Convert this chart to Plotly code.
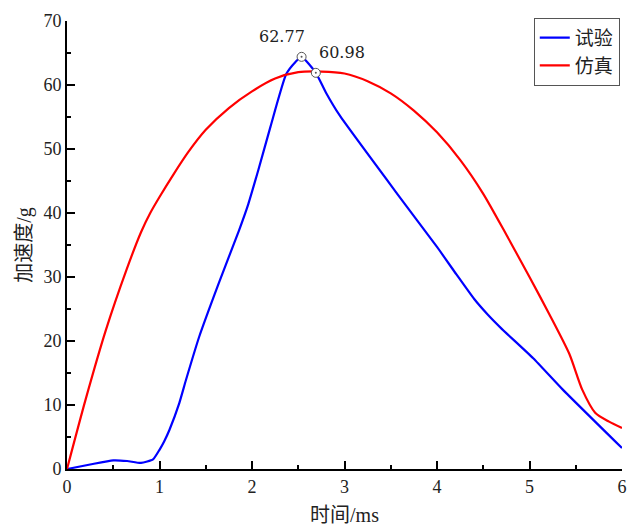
import plotly.graph_objects as go

# 试验 (test) data
test_t = [0.0, 0.25, 0.5, 0.65, 0.8, 0.93, 1.0, 1.05, 1.107, 1.214, 1.286, 1.43, 1.64, 1.86, 1.96, 2.07, 2.2, 2.37, 2.47, 2.536, 2.69, 2.8, 2.95, 3.57, 4.0, 4.21, 4.4, 4.55, 4.7, 5.04, 5.36, 6.0]
test_a = [0.0, 0.7, 1.35, 1.25, 0.95, 1.5, 3.0, 4.3, 6.1, 10.3, 13.9, 20.7, 29.0, 37.3, 41.4, 46.8, 53.5, 61.7, 63.6, 64.4, 61.9, 58.8, 55.2, 43.0, 34.7, 30.4, 26.6, 24.1, 21.9, 17.3, 12.4, 3.27]

# 仿真 (simulation) data
sim_t = [0.0, 0.2, 0.42, 0.64, 0.8, 0.9, 1.0, 1.15, 1.31, 1.5, 1.75, 2.0, 2.25, 2.5, 2.75, 3.0, 3.25, 3.5, 3.75, 4.0, 4.25, 4.5, 4.75, 5.0, 5.21, 5.43, 5.57, 5.71, 5.86, 6.0]
sim_a = [0.0, 10.8, 21.7, 31.0, 37.0, 40.0, 42.5, 46.0, 49.5, 53.0, 56.4, 59.0, 61.0, 62.0, 62.1, 61.8, 60.6, 58.7, 56.0, 52.6, 48.3, 43.0, 36.6, 30.0, 24.3, 18.0, 12.4, 8.8, 7.4, 6.4]

# Marked points
mark_t = [2.536, 2.69]
mark_a = [64.4, 61.9]
mark_labels = ["62.77", "60.98"]

x_ticks = [0, 1, 2, 3, 4, 5, 6]
y_ticks = [0, 10, 20, 30, 40, 50, 60, 70]

FONT = "Liberation Serif, Noto Sans CJK SC, serif"
LABEL_FONT = "DejaVu Serif, serif"

fig = go.Figure()
fig.add_trace(go.Scatter(x=test_t, y=test_a, mode="lines", name="试验",
                         line=dict(color="#0000ff", width=2.2, shape="spline", smoothing=0.5)))
fig.add_trace(go.Scatter(x=sim_t, y=sim_a, mode="lines", name="仿真",
                         line=dict(color="#ff0000", width=2.2, shape="spline", smoothing=0.7)))
fig.add_trace(go.Scatter(x=mark_t, y=mark_a, mode="markers", showlegend=False,
                         marker=dict(size=9, color="white", line=dict(color="#555555", width=1))))
fig.add_trace(go.Scatter(x=mark_t, y=mark_a, mode="markers", showlegend=False,
                         marker=dict(size=2, color="#555555")))

offsets = [(-20, -20), (26, -20)]
for t, a, lab, (ax, ay) in zip(mark_t, mark_a, mark_labels, offsets):
    fig.add_annotation(x=t, y=a, text=lab, showarrow=False, xshift=ax, yshift=-ay,
                       font=dict(family=LABEL_FONT, size=16, color="#222222"))

axis_common = dict(showline=True, linecolor="black", linewidth=2, mirror=False,
                   ticks="inside", ticklen=8, tickwidth=2, tickcolor="black",
                   showgrid=False, zeroline=False,
                   tickfont=dict(family=FONT, size=18, color="#222222"))

fig.update_xaxes(range=[0, 6], tickvals=x_ticks,
                 title=dict(text="时间/ms", font=dict(family=FONT, size=20, color="#222222"), standoff=12),
                 minor=dict(ticks="inside", ticklen=4, tickwidth=2, tickcolor="black", dtick=0.5, showgrid=False),
                 **axis_common)
fig.update_yaxes(range=[0, 70], tickvals=y_ticks,
                 title=dict(text="加速度/g", font=dict(family=FONT, size=20, color="#222222"), standoff=6),
                 minor=dict(ticks="inside", ticklen=4, tickwidth=2, tickcolor="black", dtick=5, showgrid=False),
                 **axis_common)

fig.update_layout(
    width=632, height=531,
    margin=dict(l=67, r=5, t=21, b=62),
    plot_bgcolor="white", paper_bgcolor="white",
    legend=dict(x=0.996, y=1.007, xanchor="right", yanchor="top",
                bordercolor="#555555", borderwidth=1, bgcolor="white",
                font=dict(family=FONT, size=19, color="#222222"),
                tracegroupgap=0, itemwidth=30),
)

fig.write_html("out.html")
